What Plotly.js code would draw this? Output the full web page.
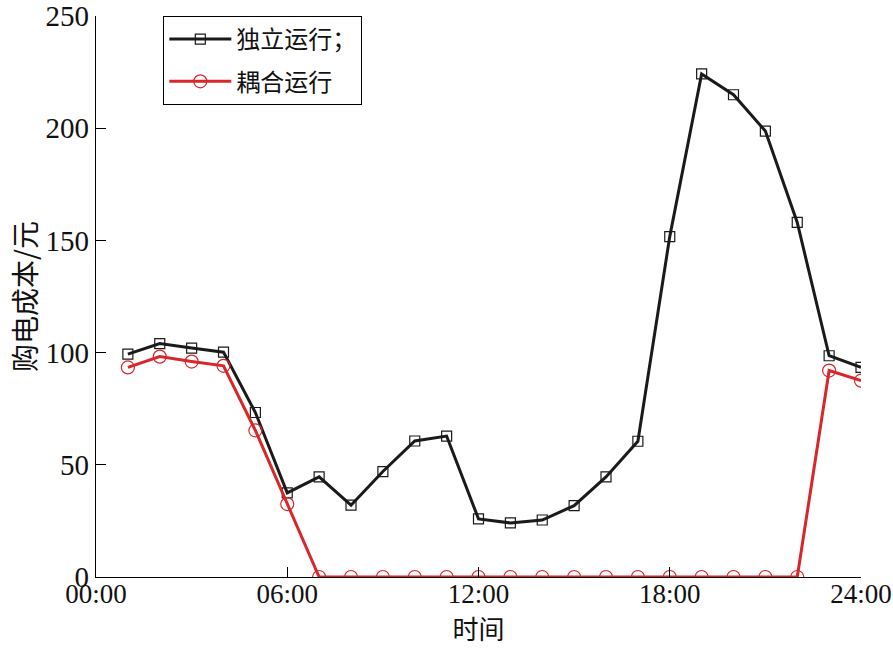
<!DOCTYPE html>
<html>
<head>
<meta charset="utf-8">
<script src="https://cdn.plot.ly/plotly-3.0.1.min.js"></script>
<style>html,body{margin:0;padding:0;background:#fff;}#chart{width:893px;height:648px;}</style>
</head>
<body>
<div id="chart"></div>
<script>
const hours = [1,2,3,4,5,6,7,8,9,10,11,12,13,14,15,16,17,18,19,20,21,22,23,24];
const independentCost = [99.3,104,102,100.2,73.3,37.5,44.6,32,47,60.6,62.8,25.9,24.1,25.4,31.8,44.6,60.5,151.7,224.2,214.9,198.7,158,98.6,93.4];
const coupledCost = [93.4,98.2,96,94.1,65.3,32.5,0,0,0,0,0,0,0,0,0,0,0,0,0,0,0,0,92,87.5];
const seriesNames = ['独立运行；','耦合运行'];
const xTickVals = [0,6,12,18,24];
const xTickText = ['00:00','06:00','12:00','18:00','24:00'];
const yTickVals = [0,50,100,150,200,250];

const serif = '"Liberation Serif", "Times New Roman", "Noto Sans CJK SC", serif';
const cjk = '"Noto Sans CJK SC", "Liberation Serif", sans-serif';

const traces = [
  {x: hours, y: independentCost, name: seriesNames[0], legendgroup: 'g1', type: 'scatter', mode: 'lines+markers',
   line: {color: '#1a1a1a', width: 3},
   marker: {symbol: 'square-open', size: 10, color: '#1a1a1a', line: {width: 1.2}}},
  {x: hours, y: coupledCost, name: seriesNames[1], legendgroup: 'g2', type: 'scatter', mode: 'lines+markers',
   line: {color: '#d9262b', width: 3},
   marker: {symbol: 'circle-open', size: 13, color: '#d9262b', line: {width: 1.2}}}
];

const layout = {
  width: 893, height: 648,
  margin: {l: 96, r: 32, t: 16, b: 71, pad: 0},
  paper_bgcolor: '#fff', plot_bgcolor: '#fff',
  showlegend: true,
  legend: {x: 0.088, y: 1.0, xanchor: 'left', yanchor: 'top',
    bordercolor: '#000', borderwidth: 1, bgcolor: '#fff',
    font: {family: cjk, size: 24, color: '#111'},
    itemwidth: 62, tracegroupgap: 8},
  xaxis: {range: [0, 24], tickvals: xTickVals, ticktext: xTickText,
    ticks: 'inside', ticklen: 10, tickcolor: '#000', tickwidth: 1,
    showline: true, linecolor: '#000', linewidth: 1.3, mirror: false,
    showgrid: false, zeroline: false, ticklabeloverflow: 'allow',
    ticklabelstandoff: -8,
    tickfont: {family: serif, size: 27, color: '#111'},
    title: {text: '时间', font: {family: cjk, size: 26, color: '#111'}, standoff: 4}},
  yaxis: {range: [0, 250], tickvals: yTickVals,
    ticks: 'inside', ticklen: 10, tickcolor: '#000', tickwidth: 1,
    showline: true, linecolor: '#000', linewidth: 1.3,
    showgrid: false, zeroline: false, ticklabeloverflow: 'allow',
    tickfont: {family: serif, size: 29, color: '#111'},
    title: {text: '购电成本/元', font: {family: cjk, size: 28, color: '#111'}, standoff: 0}}
};

Plotly.newPlot('chart', traces, layout, {displayModeBar: false, staticPlot: true});
</script>
</body>
</html>
